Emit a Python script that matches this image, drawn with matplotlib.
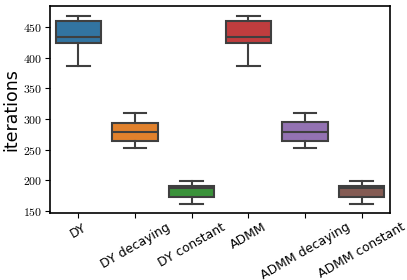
import matplotlib
matplotlib.use('Agg')
import matplotlib.pyplot as plt
import seaborn as sns

plt.rcParams['mathtext.fontset'] = 'cm'

methods = ['DY', 'DY decaying', 'DY constant', 'ADMM', 'ADMM decaying', 'ADMM constant']
whis_lo = [387, 253, 162, 387, 253, 162]
q1 = [424, 265, 173, 424, 265, 173]
med = [434, 279, 188, 434, 279, 187]
q3 = [460, 293, 191, 460, 295, 191]
whis_hi = [468, 309, 199, 468, 310, 199]

palette = [sns.desaturate(c, 0.75) for c in sns.color_palette('tab10', 6)]
line_col = '#3f3f3f'

stats = []
for i, m in enumerate(methods):
    stats.append(dict(label=m, whislo=whis_lo[i], q1=q1[i], med=med[i],
                      q3=q3[i], whishi=whis_hi[i], fliers=[]))

fig = plt.figure(figsize=(4.07, 2.8), dpi=100)
ax = fig.add_axes((0.123, 0.239, 0.835, 0.74))

bp = ax.bxp(stats, positions=range(len(methods)), widths=0.8, patch_artist=True,
            showfliers=False,
            boxprops=dict(edgecolor=line_col, linewidth=1.5),
            medianprops=dict(color=line_col, linewidth=1.5),
            whiskerprops=dict(color=line_col, linewidth=1.5),
            capprops=dict(color=line_col, linewidth=1.5),
            capwidths=0.4)
for patch, c in zip(bp['boxes'], palette):
    patch.set_facecolor(c)

ax.set_xlim(-0.5, len(methods) - 0.5)
ax.set_ylim(147, 484)
yt = [150, 200, 250, 300, 350, 400, 450]
ax.set_yticks(yt)
ax.set_yticklabels(['$%d$' % v for v in yt], fontsize=8.5)
ax.tick_params(axis='y', pad=2)
ax.tick_params(axis='x', pad=2)
ax.set_xticks(range(len(methods)))
ax.set_xticklabels(methods, rotation=30, ha='center', fontsize=9)
ax.set_ylabel('iterations', fontsize=12.5, labelpad=2)
for s in ax.spines.values():
    s.set_linewidth(1.2)

fig.savefig('out.png', dpi=100)
